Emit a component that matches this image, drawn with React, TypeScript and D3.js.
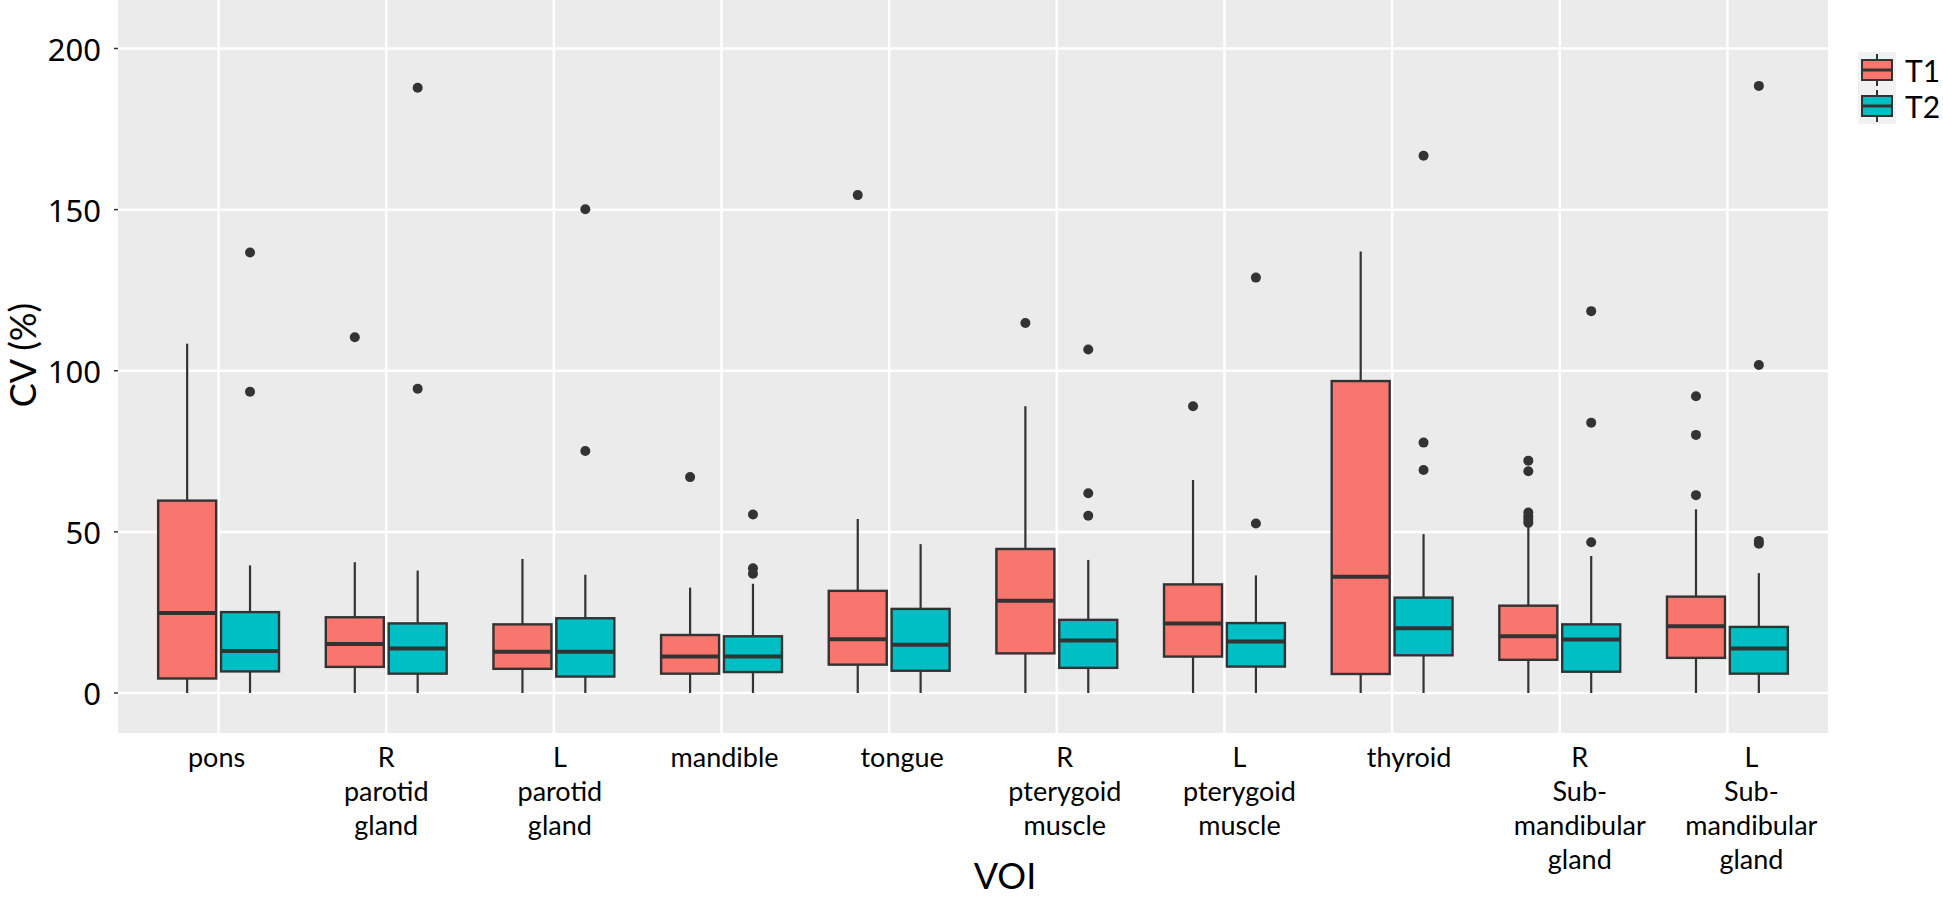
import React from 'react';
import * as d3 from 'd3';

// VOI categories, each label split into its printed lines
const categories = ['pons', 'R parotid', 'L parotid', 'mandible', 'tongue', 'R pterygoid', 'L pterygoid', 'thyroid', 'R submandibular', 'L submandibular'];
const categoryLines = [
  ['pons'],
  ['R', 'parotid', 'gland'],
  ['L', 'parotid', 'gland'],
  ['mandible'],
  ['tongue'],
  ['R', 'pterygoid', 'muscle'],
  ['L', 'pterygoid', 'muscle'],
  ['thyroid'],
  ['R', 'Sub-', 'mandibular', 'gland'],
  ['L', 'Sub-', 'mandibular', 'gland'],
];
// small nudges of the hand-placed x labels (px)
const labelShift = [-2, 0, 6, 3, 13, 8, 15, 17, 20, 24];

// [lower whisker, q1, median, q3, upper whisker]
const t1Stats = [
  [0, 4.5, 24.8, 59.7, 108.4],
  [0, 8.1, 15.2, 23.5, 40.6],
  [0, 7.5, 12.8, 21.3, 41.6],
  [0, 6.0, 11.3, 18.0, 32.7],
  [0, 8.8, 16.7, 31.7, 54.0],
  [0, 12.3, 28.6, 44.7, 89.0],
  [0, 11.3, 21.6, 33.7, 66.1],
  [0, 5.9, 36.1, 96.8, 137.0],
  [0, 10.3, 17.6, 27.1, 51.5],
  [0, 10.9, 20.7, 29.9, 57.0],
];
const t2Stats = [
  [0, 6.7, 13.0, 25.1, 39.6],
  [0, 6.0, 13.8, 21.6, 38.0],
  [0, 5.1, 12.8, 23.2, 36.7],
  [0, 6.5, 11.3, 17.6, 33.9],
  [0, 6.9, 15.0, 26.1, 46.2],
  [0, 7.8, 16.3, 22.7, 41.3],
  [0, 8.2, 16.0, 21.7, 36.5],
  [0, 11.7, 20.1, 29.6, 49.3],
  [0, 6.6, 16.6, 21.3, 42.5],
  [0, 6.0, 13.8, 20.5, 37.2],
];
const t1Outliers = [
  [],
  [110.4],
  [],
  [67.0],
  [154.5],
  [114.8],
  [89.0],
  [],
  [72.1, 68.8, 56.0, 54.8, 53.8, 52.8],
  [92.1, 80.1, 61.4],
];
const t2Outliers = [
  [136.7, 93.5],
  [187.8, 94.4],
  [150.1, 75.1],
  [55.4, 38.7, 37.0],
  [],
  [106.6, 62.0, 55.0],
  [128.9, 52.6],
  [166.7, 77.7, 69.2],
  [118.5, 83.9, 46.8],
  [188.4, 101.8, 47.2, 46.3],
];
const yTicks = [0, 50, 100, 150, 200];
const groups = ['T1', 'T2'];
const colors = ['#F8766D', '#00BFC4'];

const W = 1943;
const H = 898;
const panel = { left: 118, right: 1828, top: 0, bottom: 733 };

const x = d3.scalePoint<string>().domain(categories).range([panel.left, panel.right]).padding(0.6);
const y = d3.scaleLinear().domain([0, 200]).range([693, 48.5]);

const App = () => {
  const step = x.step();
  const half = 0.173 * step;
  const dodge = 0.1875 * step;
  const lineFont = 'Lato, "Open Sans", sans-serif';

  const boxes = groups.flatMap((g, gi) => {
    const stats = gi === 0 ? t1Stats : t2Stats;
    const outs = gi === 0 ? t1Outliers : t2Outliers;
    return categories.map((c, i) => {
      const [lo, q1, med, q3, hi] = stats[i];
      const cx = (x(c) as number) + (gi === 0 ? -dodge : dodge);
      return (
        <g key={g + c}>
          <line x1={cx} x2={cx} y1={y(hi)} y2={y(q3)} stroke="#333" strokeWidth={2.2} />
          <line x1={cx} x2={cx} y1={y(q1)} y2={y(lo)} stroke="#333" strokeWidth={2.2} />
          <rect x={cx - half} width={half * 2} y={y(q3)} height={y(q1) - y(q3)} fill={colors[gi]} stroke="#333" strokeWidth={2.4} />
          <line x1={cx - half} x2={cx + half} y1={y(med)} y2={y(med)} stroke="#333" strokeWidth={4} />
          {outs[i].map((v, k) => (
            <circle key={k} cx={cx} cy={y(v)} r={5} fill="#333" />
          ))}
        </g>
      );
    });
  });

  return (
    <svg width={W} height={H} style={{ position: 'absolute', left: 0, top: 0, background: '#fff' }}>
      <rect x={panel.left} y={panel.top} width={panel.right - panel.left} height={panel.bottom - panel.top} fill="#EBEBEB" />
      {yTicks.map((t) => (
        <line key={'h' + t} x1={panel.left} x2={panel.right} y1={y(t)} y2={y(t)} stroke="#fff" strokeWidth={2.5} />
      ))}
      {categories.map((c) => (
        <line key={'v' + c} x1={x(c)} x2={x(c)} y1={panel.top} y2={panel.bottom} stroke="#fff" strokeWidth={2.5} />
      ))}
      {boxes}

      {/* y axis */}
      {yTicks.map((t) => (
        <g key={'yt' + t}>
          <line x1={114} x2={118} y1={y(t)} y2={y(t)} stroke="#333" strokeWidth={1.5} />
          <text x={101} y={y(t) + 12} textAnchor="end" fontFamily='"Noto Sans", sans-serif' fontSize={31} fill="#000">
            {t}
          </text>
        </g>
      ))}
      <text transform={`translate(36,${355}) rotate(-90)`} textAnchor="middle" fontFamily={lineFont} fontSize={36} fill="#000">
        CV (%)
      </text>

      {/* x labels */}
      {categories.map((c, i) => (
        <text key={'xl' + c} textAnchor="middle" fontFamily={lineFont} fontSize={27} fill="#000">
          {categoryLines[i].map((ln, k) => (
            <tspan key={k} x={(x(c) as number) + labelShift[i]} y={767 + k * 34}>
              {ln}
            </tspan>
          ))}
        </text>
      ))}
      <text x={1005} y={889} textAnchor="middle" fontFamily={lineFont} fontSize={36} fill="#000">
        VOI
      </text>

      {/* legend */}
      {groups.map((g, gi) => {
        const top = 52 + gi * 36;
        const cy = top + 18;
        return (
          <g key={'lg' + g}>
            <rect x={1858} y={top} width={38} height={36} fill="#F2F2F2" />
            <line x1={1877} x2={1877} y1={top + 2} y2={top + 34} stroke="#333" strokeWidth={2} />
            <rect x={1862} y={cy - 10} width={30} height={20} fill={colors[gi]} stroke="#333" strokeWidth={2} />
            <line x1={1862} x2={1892} y1={cy} y2={cy} stroke="#333" strokeWidth={3} />
            <text x={1905} y={cy + 12} fontFamily={lineFont} fontSize={30} fill="#000">
              {g}
            </text>
          </g>
        );
      })}
    </svg>
  );
};

export default App;
